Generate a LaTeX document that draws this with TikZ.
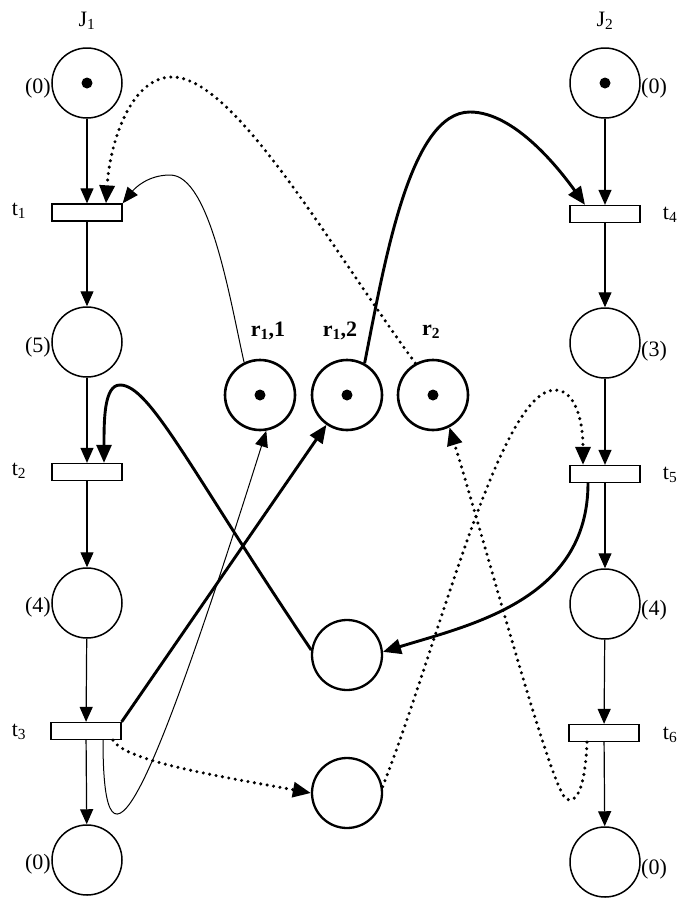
\documentclass[tikz,border=0pt]{standalone}
\usepackage{fontspec}
\setmainfont{Liberation Serif}
\usetikzlibrary{arrows.meta}
\begin{document}
\begin{tikzpicture}[x=1pt,y=-1pt,
  place/.style={circle,draw,line width=1.5pt,minimum size=70pt,inner sep=0pt},
  rplace/.style={place,line width=2.6pt},
  trans/.style={rectangle,draw,line width=1.3pt,minimum width=70pt,minimum height=17pt,inner sep=0pt},
  tok/.style={circle,fill,minimum size=11pt,inner sep=0pt},
  arc/.style={line width=1.2pt,-{Triangle[length=15pt,width=13pt]}},
  thinarc/.style={line width=1pt,-{Triangle[length=16pt,width=13pt]}},
  thickarc/.style={line width=2.9pt,-{Triangle[length=18pt,width=15pt]}},
  dotarc/.style={line width=3.4pt,dash pattern=on 0pt off 6.5pt,line cap=round,-{Triangle[length=18pt,width=15pt]}},
  lab/.style={font=\fontsize{22}{24}\selectfont,inner sep=1pt},
  rlab/.style={font=\fontsize{22}{24}\selectfont\bfseries,inner sep=1pt}]
\useasboundingbox (0,0) rectangle (679,898);
\clip (0,0) rectangle (679,898);

% left column
\node[place] (P1) at (87,83) {};
\node[trans] (T1) at (87,212.5) {};
\node[place] (P2) at (87,342) {};
\node[trans] (T2) at (87,472) {};
\node[place] (P3) at (87,603) {};
\node[trans] (T3) at (86,731) {};
\node[place] (P4) at (87,860) {};
% right column
\node[place] (Q1) at (605,83) {};
\node[trans] (T4) at (605,214) {};
\node[place] (Q2) at (605,343) {};
\node[trans] (T5) at (605,474) {};
\node[place] (Q3) at (605,604) {};
\node[trans] (T6) at (604,733) {};
\node[place] (Q4) at (605,862) {};
% resource places
\node[rplace] (R11) at (260,395) {};
\node[rplace] (R12) at (347,395) {};
\node[rplace] (R2) at (433,395) {};
\node[rplace,line width=2.3pt] (M1) at (347,655) {};
\node[rplace,line width=2.3pt] (M2) at (347,793) {};
% tokens
\node[tok] (k1) at (P1.center) {};
\node[tok] (k2) at (Q1.center) {};
\node[tok] (k3) at (R11.center) {};
\node[tok] (k4) at (R12.center) {};
\node[tok] (k5) at (R2.center) {};

% labels
\node[lab] (lJ1) at (87,21) {J\textsubscript{1}};
\node[lab] (lJ2) at (605,21) {J\textsubscript{2}};
\node[lab,anchor=east] (lp1) at (52,88) {(0)};
\node[lab,anchor=east] (lp2) at (52,347) {(5)};
\node[lab,anchor=east] (lp3) at (52,607) {(4)};
\node[lab,anchor=east] (lp4) at (52,864) {(0)};
\node[lab,anchor=west] (lq1) at (640,88) {(0)};
\node[lab,anchor=west] (lq2) at (640,351) {(3)};
\node[lab,anchor=west] (lq3) at (640,610) {(4)};
\node[lab,anchor=west] (lq4) at (640,869) {(0)};
\node[lab] (lt1) at (19,211) {t\textsubscript{1}};
\node[lab] (lt2) at (19,471) {t\textsubscript{2}};
\node[lab] (lt3) at (19,732) {t\textsubscript{3}};
\node[lab,anchor=east,inner sep=0.5pt] (lt4) at (678,215) {t\textsubscript{4}};
\node[lab,anchor=east,inner sep=0.5pt] (lt5) at (678,475) {t\textsubscript{5}};
\node[lab,anchor=east,inner sep=0.5pt] (lt6) at (678,735) {t\textsubscript{6}};
\node[rlab] (lr11) at (268,331) {r\textsubscript{1},1};
\node[rlab] (lr12) at (340,331) {r\textsubscript{1},2};
\node[rlab] (lr2) at (431,332) {r\textsubscript{2}};

% job arcs
\draw[arc] (P1) -- (T1);
\draw[arc] (T1) -- (P2);
\draw[arc] (P2) -- (T2);
\draw[arc] (T2) -- (P3);
\draw[arc] (P3) -- (T3);
\draw[arc] (T3) -- (P4);
\draw[arc] (Q1) -- (T4);
\draw[arc] (T4) -- (Q2);
\draw[arc] (Q2) -- (T5);
\draw[arc] (T5) -- (Q3);
\draw[arc] (Q3) -- (T6);
\draw[arc] (T6) -- (Q4);

% resource arcs
\draw[dotarc] (R2.119) .. controls (330,247) and (235,77) .. (172,77)
  .. controls (132,77) and (110,140) .. ([xshift=19pt]T1.north);
\draw[thinarc] (R11.116) .. controls (230,300) and (210,175) .. (170,175)
  .. controls (148,175) and (135,188) .. (T1.north east);
\draw[thickarc] (R12.61) .. controls (385,260) and (410,112) .. (470,112)
  .. controls (515,112) and (560,170) .. ([xshift=-20pt]T4.north);
\draw[thickarc] (M1.172) .. controls (190,470) and (150,385) .. (120,385)
  .. controls (104,385) and (104,420) .. ([xshift=17pt]T2.north);
\draw[thickarc] ([xshift=-17pt]T5.south) .. controls (588,600) and (470,625) .. (M1.5);
\draw[thickarc] (T3.north east) -- (R12);
\draw[thinarc] ([xshift=17pt]T3.south) .. controls (103,900) and (150,800) .. (R11.-80);
\draw[dotarc] ([xshift=27pt]T3.south) .. controls (125,762) and (230,778) .. (M2.west);
\draw[dotarc] (M2.10) .. controls (440,640) and (500,390) .. (555,390)
  .. controls (575,390) and (583,420) .. ([xshift=-22pt]T5.north);
\draw[dotarc] ([xshift=-17pt]T6.south) .. controls (585,790) and (576,804) .. (566,799)
  .. controls (550,785) and (490,560) .. (R2.-63);
\end{tikzpicture}
\end{document}
